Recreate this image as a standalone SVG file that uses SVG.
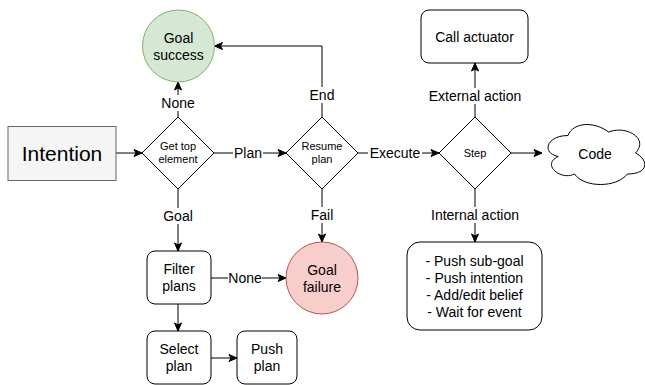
<svg xmlns="http://www.w3.org/2000/svg" width="645" height="385" viewBox="0 0 645 385">
<defs>
<style>
text{font-family:"Liberation Sans",Arial,Helvetica,sans-serif;fill:#000;text-anchor:middle}
.t14{font-size:14px}
.t11{font-size:11px}
.node{fill:#fff;stroke:#000;stroke-width:1}
.edge{fill:none;stroke:#000;stroke-width:1}
.lbg{fill:#fff;stroke:none}
</style>
<marker id="arr" markerUnits="userSpaceOnUse" markerWidth="10" markerHeight="8" viewBox="0 0 10 8" refX="9" refY="4" orient="auto">
<path d="M1,0.5 L9,4 L1,7.5 L3,4 Z" fill="#000" stroke="#000" stroke-width="1"/>
</marker>
</defs>
<rect width="645" height="385" fill="#fff"/>

<g id="connectors">
<path class="edge" d="M116,153 H142" marker-end="url(#arr)"/>
<path class="edge" d="M178,117 V82" marker-end="url(#arr)"/>
<path class="edge" d="M214,153 H286" marker-end="url(#arr)"/>
<path class="edge" d="M322,117 V46 H214.5" marker-end="url(#arr)"/>
<path class="edge" d="M358,153 H439" marker-end="url(#arr)"/>
<path class="edge" d="M475,117 V63" marker-end="url(#arr)"/>
<path class="edge" d="M511,153 H542" marker-end="url(#arr)"/>
<path class="edge" d="M475,189 V242" marker-end="url(#arr)"/>
<path class="edge" d="M178,189 V251" marker-end="url(#arr)"/>
<path class="edge" d="M322,189 V242" marker-end="url(#arr)"/>
<path class="edge" d="M211,278 H286" marker-end="url(#arr)"/>
<path class="edge" d="M178,304 V331" marker-end="url(#arr)"/>
<path class="edge" d="M211,358 H237" marker-end="url(#arr)"/>
<g id="edge-labels">
<rect class="lbg" x="161" y="95" width="34" height="16"/>
<text class="t14" x="178" y="108">None</text>
<rect class="lbg" x="233" y="145" width="30" height="16"/>
<text class="t14" x="248" y="158">Plan</text>
<rect class="lbg" x="308" y="87" width="28" height="16"/>
<text class="t14" x="322" y="100">End</text>
<rect class="lbg" x="368" y="145" width="54" height="16"/>
<text class="t14" x="395" y="158">Execute</text>
<rect class="lbg" x="424" y="88" width="102" height="16"/>
<text class="t14" x="475" y="101">External action</text>
<rect class="lbg" x="427" y="207" width="96" height="16"/>
<text class="t14" x="475" y="220">Internal action</text>
<rect class="lbg" x="161" y="208" width="34" height="16"/>
<text class="t14" x="178" y="221">Goal</text>
<rect class="lbg" x="309" y="207" width="26" height="16"/>
<text class="t14" x="322" y="220">Fail</text>
<rect class="lbg" x="228" y="270" width="34" height="16"/>
<text class="t14" x="245" y="283">None</text>
</g>
</g>

<g id="intention">
<rect x="8" y="126.5" width="108" height="54" fill="#f5f5f5" stroke="#666666"/>
<text x="62" y="161" style="font-size:21px">Intention</text>
</g>

<g id="get-top-element">
<path class="node" d="M178,117 L214,153 L178,189 L142,153 Z"/>
<text class="t11" x="178" y="150">Get top</text>
<text class="t11" x="178" y="163">element</text>
</g>

<g id="goal-success">
<circle cx="178.5" cy="46" r="36" fill="#d5e8d4" stroke="#82b366"/>
<text class="t14" x="178.5" y="43">Goal</text>
<text class="t14" x="178.5" y="60">success</text>
</g>

<g id="resume-plan">
<path class="node" d="M322,117 L358,153 L322,189 L286,153 Z"/>
<text class="t11" x="322" y="150">Resume</text>
<text class="t11" x="322" y="163">plan</text>
</g>

<g id="step">
<path class="node" d="M475,117 L511,153 L475,189 L439,153 Z"/>
<text class="t11" x="475" y="157">Step</text>
</g>

<g id="call-actuator">
<rect class="node" x="421" y="10" width="107" height="53" rx="8" ry="8"/>
<text class="t14" x="474.5" y="42">Call actuator</text>
</g>

<g id="code">
<path class="node" transform="translate(541,118) scale(108,70)" vector-effect="non-scaling-stroke" d="M0.25,0.25 C0.05,0.25 0,0.5 0.16,0.55 C0,0.66 0.18,0.9 0.31,0.8 C0.4,1 0.7,1 0.8,0.8 C1,0.8 1,0.6 0.875,0.5 C1,0.3 0.8,0.1 0.625,0.2 C0.5,0.05 0.3,0.05 0.25,0.25 Z"/>
<text class="t14" x="595" y="159">Code</text>
</g>

<g id="internal-actions">
<rect class="node" x="407" y="242" width="135" height="88" rx="13" ry="13"/>
<text class="t14" x="474.5" y="266">- Push sub-goal</text>
<text class="t14" x="474.5" y="283">- Push intention</text>
<text class="t14" x="474.5" y="300">- Add/edit belief</text>
<text class="t14" x="474.5" y="317">- Wait for event</text>
</g>

<g id="filter-plans">
<rect class="node" x="147" y="251" width="64" height="53" rx="8" ry="8"/>
<text class="t14" x="179" y="274">Filter</text>
<text class="t14" x="179" y="291">plans</text>
</g>

<g id="goal-failure">
<circle cx="322" cy="278" r="36" fill="#f8cecc" stroke="#b85450"/>
<text class="t14" x="322" y="275">Goal</text>
<text class="t14" x="322" y="292">failure</text>
</g>

<g id="select-plan">
<rect class="node" x="147" y="331" width="64" height="53" rx="8" ry="8"/>
<text class="t14" x="179" y="354">Select</text>
<text class="t14" x="179" y="371">plan</text>
</g>

<g id="push-plan">
<rect class="node" x="237" y="331" width="60" height="53" rx="8" ry="8"/>
<text class="t14" x="267" y="354">Push</text>
<text class="t14" x="267" y="371">plan</text>
</g>
</svg>
